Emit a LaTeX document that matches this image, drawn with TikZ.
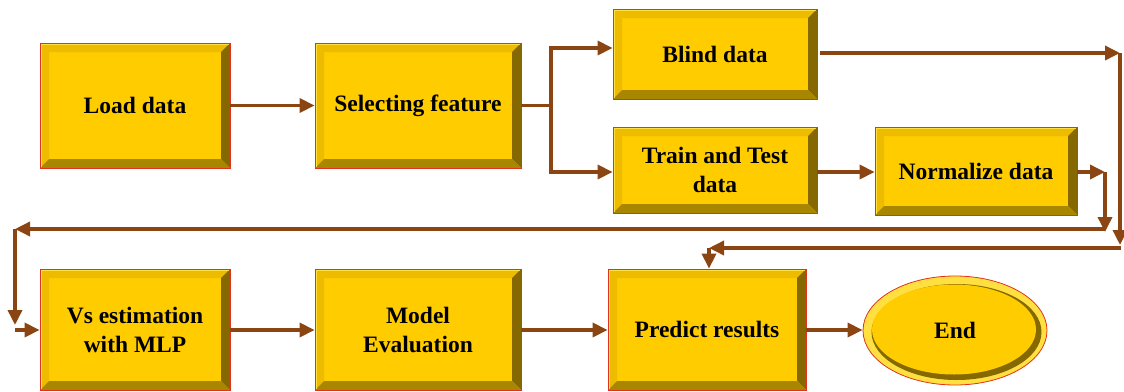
\documentclass[tikz,border=0pt]{standalone}
\usepackage{fontspec}
\setmainfont{Liberation Serif}
\usetikzlibrary{arrows.meta,calc,shapes.geometric}
\definecolor{gold}{HTML}{FFCC00}
\definecolor{goldlt}{HTML}{EDBC00}
\definecolor{goldhi}{HTML}{FFE040}
\definecolor{golddk}{HTML}{866800}
\definecolor{goldmd}{HTML}{A88600}
\definecolor{bred}{HTML}{E0341E}
\definecolor{brn}{HTML}{8B4513}
\begin{document}
\begin{tikzpicture}[x=1pt,y=-1pt,
  lbl/.style={font=\bfseries\fontsize{23.5}{29}\selectfont, text=black, align=center},
  bevelbox/.style={rectangle, draw=bred, line width=0.8pt, fill=gold, inner sep=0pt, lbl,
    path picture={
      \coordinate (pnw) at (path picture bounding box.north west);
      \coordinate (pne) at (path picture bounding box.north east);
      \coordinate (psw) at (path picture bounding box.south west);
      \coordinate (pse) at (path picture bounding box.south east);
      \fill[goldlt] (pnw) -- (pne) -- ($(pne)+(-9pt,-9pt)$) -- ($(pnw)+(9pt,-9pt)$) -- cycle;
      \fill[goldlt] (pnw) -- (psw) -- ($(psw)+(9pt,9pt)$) -- ($(pnw)+(9pt,-9pt)$) -- cycle;
      \fill[golddk] (pne) -- (pse) -- ($(pse)+(-9pt,9pt)$) -- ($(pne)+(-9pt,-9pt)$) -- cycle;
      \fill[goldmd] (psw) -- (pse) -- ($(pse)+(-9pt,9pt)$) -- ($(psw)+(9pt,9pt)$) -- cycle;
      \draw[goldhi, line width=1.2pt] ($(pnw)+(1pt,-1pt)$) -- ($(pne)+(-1pt,-1pt)$);
      \draw[goldhi, line width=1.2pt] ($(pnw)+(1pt,-1pt)$) -- ($(psw)+(1pt,1pt)$);
    }},
  endnode/.style={ellipse, draw=bred, line width=0.8pt, fill=gold, inner sep=0pt, lbl,
    path picture={
      \coordinate (pc) at (path picture bounding box.center);
      \fill[goldhi] (pc) ellipse [x radius=93pt, y radius=56pt];
      \fill[golddk] ($(pc)+(1.5pt,-1.5pt)$) ellipse [x radius=85pt, y radius=48pt];
      \fill[gold] ($(pc)+(-1pt,1pt)$) ellipse [x radius=82pt, y radius=45pt];
    }},
  line/.style={draw=brn, line width=3.5pt},
  arr/.style={line, -{Triangle[length=15pt,width=14pt]}}
]
\useasboundingbox (0,0) rectangle (1124,391);

% nodes
\node[bevelbox, minimum width=190pt, minimum height=125pt] (load) at (135,105.5) {Load data};
\node[bevelbox, minimum width=206pt, minimum height=125pt] (sel) at (418,105.5) {Selecting feature};
\node[bevelbox, minimum width=204pt, minimum height=90pt] (blind) at (715,54) {Blind data};
\node[bevelbox, minimum width=204pt, minimum height=86pt] (train) at (715,170) {Train and Test\\data};
\node[bevelbox, minimum width=202pt, minimum height=88pt] (norm) at (976,171) {Normalize data};
\node[bevelbox, minimum width=190pt, minimum height=121pt] (vs) at (135,329.5) {Vs estimation\\with MLP};
\node[bevelbox, minimum width=206pt, minimum height=121pt] (model) at (418,329.5) {Model\\Evaluation};
\node[bevelbox, minimum width=198pt, minimum height=121pt] (pred) at (707,329.5) {Predict results};
\node[endnode, minimum width=184pt, minimum height=109pt] (end) at (955,330.5) {End};

% free-end coordinates
\coordinate (br) at (551,105.5);
\coordinate (c1) at (1120,53);
\coordinate (c2) at (1120,245);
\coordinate (c3) at (1121,248);
\coordinate (c4) at (709,248);
\coordinate (d1) at (1105,172);
\coordinate (d2) at (1105,232);
\coordinate (d3) at (1105,229);
\coordinate (d4) at (15,229);
\coordinate (d5) at (15,325);
\coordinate (d6) at (15,330);

% connectors
\draw[arr] (load.east) -- (sel.west);
\draw[line] (sel.east) -- (br);
\draw[arr] (br) |- ([yshift=6pt]blind.west);
\draw[arr] (br) |- ([yshift=-2pt]train.west);
\draw[arr] ([shift={(3pt,1pt)}]blind.east) -- (c1);
\draw[arr] (c1) -- (c2);
\draw[arr] (c3) -- (c4);
\draw[arr] (c4) -- (pred.north -| c4);
\draw[arr] ([yshift=-2pt]train.east) -- ([yshift=-1pt]norm.west);
\draw[arr] ([yshift=-1pt]norm.east) -- (d1);
\draw[arr] (d1) -- (d2);
\draw[arr] (d3) -- (d4);
\draw[arr] (d4) -- (d5);
\draw[arr] (d6) -- (vs.west |- d6);
\draw[arr] (vs.east |- d6) -- (model.west |- d6);
\draw[arr] (model.east |- d6) -- (pred.west |- d6);
\draw[arr] (pred.east |- d6) -- (end.west |- d6);
\end{tikzpicture}
\end{document}
